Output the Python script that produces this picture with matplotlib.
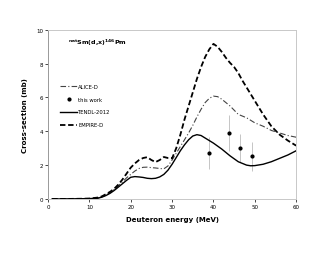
import numpy as np
import matplotlib
matplotlib.use("Agg")
import matplotlib.pyplot as plt

# -------------------------------------------------
# data
# -------------------------------------------------
empire_x = [1, 5, 8, 10, 12, 13, 14, 15, 16, 17, 18, 19, 20, 21, 22, 23, 24, 25, 26, 27,
            28, 29, 30, 31, 32, 33, 34, 35, 36, 37, 38, 39, 40, 41, 42, 43, 44, 45, 46,
            47, 48, 50, 52, 54, 56, 58, 60]
empire_y = [0, 0, 0.01, 0.02, 0.08, 0.15, 0.28, 0.42, 0.6, 0.85, 1.15, 1.5, 1.85, 2.1,
            2.3, 2.42, 2.47, 2.3, 2.18, 2.3, 2.48, 2.42, 2.4, 3.0, 3.8, 4.7, 5.5, 6.3,
            7.1, 7.8, 8.4, 8.85, 9.17, 9.0, 8.7, 8.35, 8.05, 7.8, 7.45, 7.0, 6.6, 5.8,
            5.0, 4.3, 3.8, 3.45, 3.15]

alice_x = [1, 5, 8, 10, 12, 13, 14, 15, 16, 17, 18, 19, 20, 21, 22, 23, 24, 25, 26, 27,
           28, 29, 30, 31, 32, 33, 34, 35, 36, 37, 38, 39, 40, 41, 42, 43, 44, 45, 46,
           47, 48, 50, 52, 54, 56, 58, 60]
alice_y = [0, 0, 0.01, 0.02, 0.05, 0.12, 0.22, 0.38, 0.55, 0.78, 1.0, 1.25, 1.45, 1.65,
           1.8, 1.87, 1.88, 1.85, 1.83, 1.8, 1.78, 1.95, 2.3, 2.7, 3.1, 3.5, 3.9, 4.35,
           4.85, 5.3, 5.7, 5.95, 6.08, 6.05, 5.9, 5.7, 5.5, 5.25, 5.0, 4.9, 4.8, 4.5,
           4.3, 4.05, 3.9, 3.75, 3.65]

tendl_x = [1, 5, 8, 10, 12, 13, 14, 15, 16, 17, 18, 19, 20, 21, 22, 23, 24, 25, 26, 27,
           28, 29, 30, 31, 32, 33, 34, 35, 36, 37, 38, 40, 42, 44, 46, 48, 49, 50, 52,
           54, 56, 58, 60]
tendl_y = [0, 0, 0.01, 0.02, 0.04, 0.1, 0.2, 0.33, 0.5, 0.7, 0.9, 1.1, 1.28, 1.32, 1.3,
           1.27, 1.22, 1.2, 1.22, 1.3, 1.45, 1.7, 2.05, 2.45, 2.85, 3.2, 3.5, 3.72, 3.8,
           3.75, 3.6, 3.3, 2.95, 2.55, 2.2, 2.0, 1.96, 1.97, 2.05, 2.2, 2.4, 2.6, 2.85]

exp_x = [39.0, 43.7, 46.5, 49.2]
exp_y = [2.7, 3.88, 3.0, 2.53]
exp_err = [0.95, 1.07, 0.83, 0.85]

title = r"$^{\mathbf{nat}}$Sm(d,x)$^{\mathbf{146}}$Pm"

# -------------------------------------------------
# plot
# -------------------------------------------------
fig = plt.figure(figsize=(3.3, 2.55), dpi=100)
ax = fig.add_axes([0.1455, 0.216, 0.752, 0.663])

l_alice, = ax.plot(alice_x, alice_y, color="#444444", lw=0.8, dashes=(5, 2, 1, 2),
                   label="ALICE-D")
eb = ax.errorbar(exp_x, exp_y, yerr=exp_err, fmt="o", ms=2, color="black",
                 ecolor="#bbbbbb", elinewidth=0.6, capsize=0, label="this work")
l_tendl, = ax.plot(tendl_x, tendl_y, color="black", lw=1.0, label="TENDL-2012")
l_empire, = ax.plot(empire_x, empire_y, color="black", lw=1.3, dashes=(3, 1.5),
                    label="EMPIRE-D")

ax.set_xlim(0, 60)
ax.set_ylim(0, 10)
ax.set_xticks(range(0, 61, 10))
ax.set_yticks(range(0, 11, 2))
ax.tick_params(labelsize=4, length=2, width=0.5, pad=1.5)

for side in ["top", "right", "bottom"]:
    ax.spines[side].set_color("#c8c8c8")
    ax.spines[side].set_linewidth(0.7)
ax.spines["left"].set_color("#999999")
ax.spines["left"].set_linewidth(0.7)

ax.set_xlabel("Deuteron energy (MeV)", fontsize=5, fontweight="bold", labelpad=5)
ax.set_ylabel("Cross-section (mb)", fontsize=5, fontweight="bold", labelpad=6)

ax.text(0.2, 0.93, title, transform=ax.transAxes, fontsize=4.6, fontweight="bold",
        ha="center", va="center")

ax.legend([l_alice, eb[0], l_tendl, l_empire],
          ["ALICE-D", "this work", "TENDL-2012", "EMPIRE-D"],
          loc="upper left", bbox_to_anchor=(0.03, 0.71), frameon=False, fontsize=3.8,
          handlelength=3.2, labelspacing=1.5, handletextpad=0.2)

plt.savefig("out.png", dpi=100)
plt.close()
